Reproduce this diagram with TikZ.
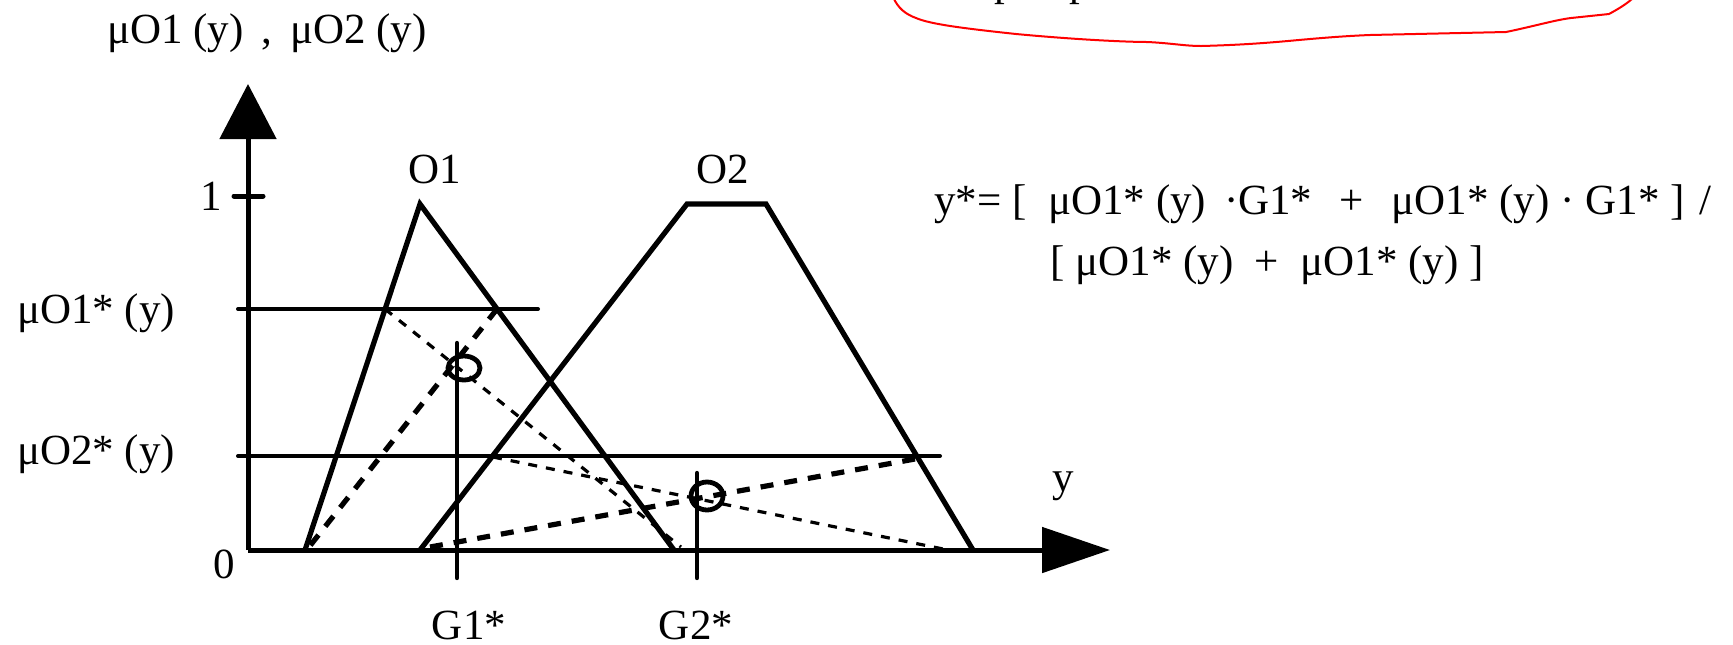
\documentclass[tikz,border=0pt]{standalone}
\usepackage{fontspec}
\setmainfont{Liberation Serif}
\usetikzlibrary{arrows.meta}
\begin{document}
\begin{tikzpicture}[x=0.5pt,y=-0.5pt,
  every node/.style={font=\fontsize{21.5}{26}\selectfont, inner sep=0pt},
  axisline/.style={line width=2.5pt},
  shapeline/.style={line width=2.6pt, line join=miter},
  levelline/.style={line width=2pt, line cap=round},
  gline/.style={line width=2.2pt, line cap=round},
  thickdash/.style={line width=2.6pt, dash pattern=on 6.5pt off 5.5pt},
  thindash/.style={line width=1.6pt, dash pattern=on 4.5pt off 4.5pt},
  cloud/.style={red, line width=1pt, line join=round}]
\useasboundingbox (0,0) rectangle (1733,644);
% coordinates
\coordinate (org) at (248,550);
\coordinate (ytip) at (248,84);
\coordinate (xtip) at (1110,550);
\coordinate (t1a) at (234,196);
\coordinate (t1b) at (263,196);
\coordinate (l1a) at (238,309);
\coordinate (l1b) at (538,309);
\coordinate (l2a) at (238,456);
\coordinate (l2b) at (940,456);
\coordinate (o1l) at (305,550);
\coordinate (o1p) at (420,204);
\coordinate (o1r) at (674,550);
\coordinate (o2l) at (420,550);
\coordinate (o2tl) at (687,204);
\coordinate (o2tr) at (766,204);
\coordinate (o2r) at (973,550);
\coordinate (g1t) at (457,343);
\coordinate (g1b) at (457,578);
\coordinate (g2t) at (697,473);
\coordinate (g2b) at (697,578);
\coordinate (c1) at (464,368);
\coordinate (c2) at (707,496);
\coordinate (d1a) at (385,309);
\coordinate (d1b) at (681,547);
\coordinate (d2a) at (497,309);
\coordinate (d2b) at (309,547);
\coordinate (d3a) at (493,457);
\coordinate (d3b) at (948,550);
\coordinate (d4a) at (430,547);
\coordinate (d4b) at (915,459);
% red cloud
\draw[cloud] (893,-3) .. controls (898,8) and (905,14) .. (916,18)
  .. controls (930,24) and (960,28) .. (1016,34)
  .. controls (1080,40) and (1130,42) .. (1147,42)
  .. controls (1170,43) and (1185,46) .. (1201,46)
  .. controls (1240,45) and (1265,43) .. (1288,41)
  .. controls (1320,38) and (1345,36) .. (1370,35)
  -- (1506,32)
  .. controls (1535,26) and (1555,20) .. (1571,18)
  -- (1609,14)
  .. controls (1620,8) and (1628,3) .. (1634,-3);
\node[anchor=base west] (p1) at (994,-5) {p};
\node[anchor=base west] (p2) at (1069,-5) {p};
% axes
\draw[axisline,-{Triangle[length=27.5pt,width=28pt]}] (org) -- (ytip);
\draw[axisline,-{Triangle[length=34pt,width=22.5pt]}] (org) -- (xtip);
\draw[axisline, line cap=round] (t1a) -- (t1b);
% level lines
\draw[levelline] (l1a) -- (l1b);
\draw[levelline] (l2a) -- (l2b);
% membership functions
\draw[shapeline] (o1l) -- (o1p) -- (o1r);
\draw[shapeline] (o2l) -- (o2tl) -- (o2tr) -- (o2r);
% dashed diagonals
\draw[thindash] (d1a) -- (d1b);
\draw[thickdash] (d2a) -- (d2b);
\draw[thindash] (d3a) -- (d3b);
\draw[thickdash] (d4a) -- (d4b);
% centroid lines and circles
\draw[gline] (g1t) -- (g1b);
\draw[gline] (g2t) -- (g2b);
\draw[line width=2.4pt] (c1) ellipse [x radius=8pt, y radius=6pt];
\draw[line width=2.4pt] (c2) ellipse [x radius=8pt, y radius=7pt];
% labels
\node (ylab) at (267,33) {μO1 (y)\, ,\,  μO2 (y)};
\node (one) at (211,196) {1};
\node (zero) at (224,564) {0};
\node (m1) at (96,313) {μO1* (y)};
\node (m2) at (96,454) {μO2* (y)};
\node (O1) at (435,169) {O1};
\node (O2) at (723,169) {O2};
\node (G1) at (469,625) {G1*};
\node (G2) at (696,625) {G2*};
\node (yl) at (1063,486) {y};
\node[anchor=west] (f1) at (934,204) {y*= [\ \ μO1* (y) \,·G1*\ \ \hspace{3pt}+\hspace{3pt}\ \ μO1* (y) · G1* ]\hspace{2pt} /};
\node[anchor=west] (f2) at (1050,265) {[ μO1* (y)\ \ +\ \ μO1* (y) ]};
\end{tikzpicture}
\end{document}
